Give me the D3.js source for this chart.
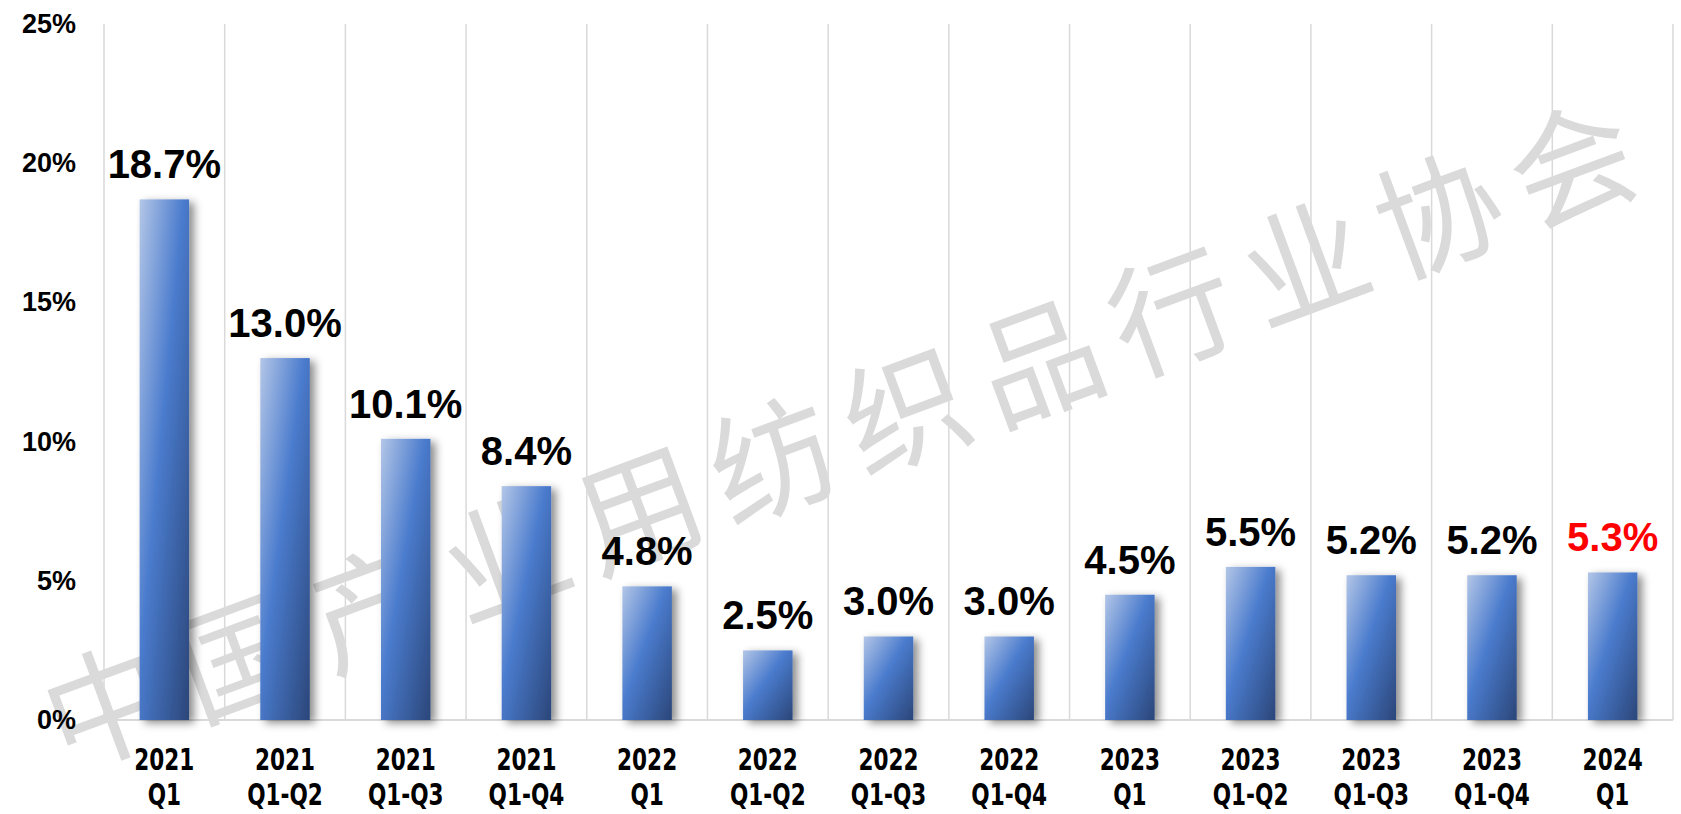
<!DOCTYPE html>
<html>
<head>
<meta charset="utf-8">
<script src="https://cdn.jsdelivr.net/npm/d3@7"></script>
<style>
  html, body { margin: 0; padding: 0; background: #fff; }
  svg { display: block; }
</style>
</head>
<body>
<svg id="chart" width="1681" height="814"></svg>
<script>
// ---- data ----
const categoryYears = ["2021","2021","2021","2021","2022","2022","2022","2022","2023","2023","2023","2023","2024"];
const categoryPeriods = ["Q1","Q1-Q2","Q1-Q3","Q1-Q4","Q1","Q1-Q2","Q1-Q3","Q1-Q4","Q1","Q1-Q2","Q1-Q3","Q1-Q4","Q1"];
const values = [18.7, 13.0, 10.1, 8.4, 4.8, 2.5, 3.0, 3.0, 4.5, 5.5, 5.2, 5.2, 5.3];
const yTicks = [0, 5, 10, 15, 20, 25];
const watermark = "中国产业用纺织品行业协会";

const categories = categoryYears.map((y, i) => y + " " + categoryPeriods[i]);

(function () {
// ---- layout ----
const svg = d3.select("#chart");
const mLeft = 104, mRight = 1673, mTop = 24, mBottom = 720;

const x = d3.scaleBand().domain(categories).range([mLeft, mRight])
  .paddingInner(0.59).paddingOuter(0.295);
const y = d3.scaleLinear().domain([0, 25]).range([mBottom, mTop]);
const step = x.step();

const defs = svg.append("defs");
const grad = defs.append("linearGradient").attr("id", "barGrad")
  .attr("x1", 0).attr("y1", 0).attr("x2", 1).attr("y2", 1);
grad.append("stop").attr("offset", "0%").attr("stop-color", "#b3c6e7");
grad.append("stop").attr("offset", "45%").attr("stop-color", "#4a7bcd");
grad.append("stop").attr("offset", "100%").attr("stop-color", "#2b4679");

const flt = defs.append("filter").attr("id", "shadow")
  .attr("x", "-30%").attr("y", "-10%").attr("width", "180%").attr("height", "130%");
flt.append("feDropShadow").attr("dx", 5).attr("dy", 3).attr("stdDeviation", 4)
  .attr("flood-color", "#000").attr("flood-opacity", 0.45);

// vertical gridlines at band boundaries
const bounds = d3.range(categories.length + 1).map(i => mLeft + i * step);
svg.append("g").selectAll("line").data(bounds).join("line")
  .attr("x1", d => d).attr("x2", d => d)
  .attr("y1", y(25)).attr("y2", y(0))
  .attr("stroke", "#d9d9d9").attr("stroke-width", 1.5);

// baseline
svg.append("line")
  .attr("x1", mLeft).attr("x2", mRight)
  .attr("y1", y(0)).attr("y2", y(0))
  .attr("stroke", "#d9d9d9").attr("stroke-width", 2);

// watermark
svg.append("text")
  .attr("transform", "translate(845,425) rotate(-20.3)")
  .attr("text-anchor", "middle")
  .attr("dominant-baseline", "central")
  .attr("font-family", "'Noto Sans CJK SC', sans-serif")
  .attr("font-weight", 400)
  .attr("font-size", 124)
  .attr("letter-spacing", 18)
  .attr("fill", "#dadada")
  .text(watermark);

// bars
svg.append("g").selectAll("rect").data(values).join("rect")
  .attr("x", (d, i) => x(categories[i]))
  .attr("y", d => y(d))
  .attr("width", x.bandwidth())
  .attr("height", d => y(0) - y(d))
  .attr("fill", "url(#barGrad)")
  .attr("filter", "url(#shadow)");

// value labels
svg.append("g").selectAll("text").data(values).join("text")
  .attr("x", (d, i) => x(categories[i]) + x.bandwidth() / 2)
  .attr("y", d => y(d) - 21)
  .attr("text-anchor", "middle")
  .attr("font-family", "'Liberation Sans', Arial, sans-serif")
  .attr("font-weight", "bold")
  .attr("font-size", 40)
  .attr("fill", (d, i) => i === values.length - 1 ? "#ff0000" : "#000")
  .text(d => d.toFixed(1) + "%");

// y axis labels
svg.append("g").selectAll("text").data(yTicks).join("text")
  .attr("x", 76)
  .attr("y", d => y(d))
  .attr("text-anchor", "end")
  .attr("dominant-baseline", "central")
  .attr("font-family", "'Liberation Sans', Arial, sans-serif")
  .attr("font-weight", "bold")
  .attr("font-size", 27)
  .attr("fill", "#000")
  .text(d => d + "%");

// x axis labels (condensed)
const xl = svg.append("g").selectAll("text").data(categories).join("text")
  .attr("transform", d => `translate(${x(d) + x.bandwidth() / 2},0) scale(0.8,1)`)
  .attr("text-anchor", "middle")
  .attr("font-family", "'Liberation Sans Narrow', 'DejaVu Sans Condensed', sans-serif")
  .attr("font-weight", "bold")
  .attr("font-size", 30)
  .attr("fill", "#000");
xl.append("tspan")
  .attr("x", 0)
  .attr("y", 770)
  .text((d, i) => categoryYears[i]);
xl.append("tspan")
  .attr("x", 0)
  .attr("y", 805)
  .text((d, i) => categoryPeriods[i]);
})();
</script>
</body>
</html>
